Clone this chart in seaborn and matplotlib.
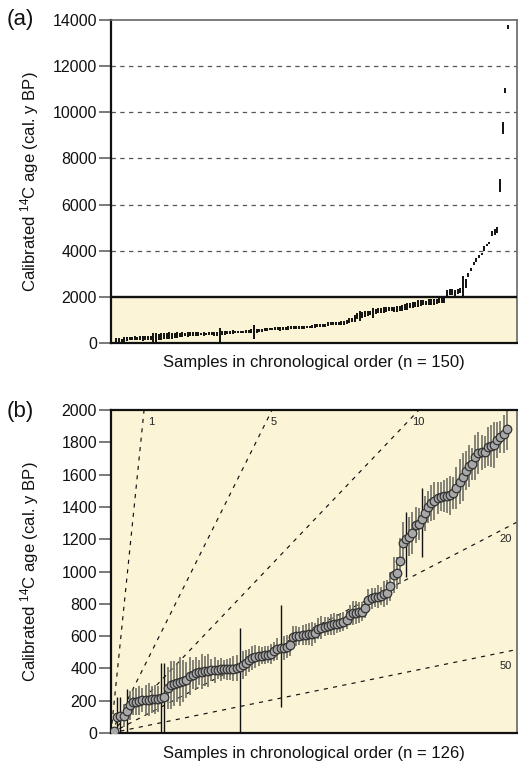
import numpy as np
import pandas as pd
import matplotlib
matplotlib.use("Agg")
import matplotlib.pyplot as plt
import seaborn as sns

# ---------------- data ----------------
# panel (b): 126 samples younger than 2000 cal. y BP (median age, half range)
ages_b = [15, 97, 103, 108, 135, 172, 190, 195, 200, 203, 205, 207, 208, 210, 212, 215, 225,
          280, 297, 305, 312, 318, 322, 328, 353,
          362, 370, 375, 380, 384, 387, 390, 392, 393, 394, 395, 396, 397, 399, 402,
          408, 420, 433, 450, 464, 472, 477, 480, 483, 486, 489,
          505, 520, 524, 528, 535, 545, 594,
          600, 603, 606, 609, 612, 615, 619, 645, 652, 658, 664, 670, 674, 678, 683,
          690, 700, 730, 744, 746, 748, 752, 773, 823, 835, 840, 845, 850, 860, 870,
          910, 978, 992, 1065, 1178, 1200, 1215, 1238, 1287, 1293, 1324, 1360,
          1400, 1425, 1436, 1454, 1462, 1466, 1470, 1473, 1487, 1516, 1556, 1587, 1624,
          1653, 1665, 1708, 1735, 1738, 1741, 1772, 1776, 1783, 1814, 1834, 1851, 1882]
errs_b = [15, 100, 110, 70, 120, 90, 80, 85, 90, 75, 95, 100, 85, 90, 80, 95, 100,
          130, 150, 140, 120, 150, 130, 110, 120,
          90, 100, 80, 110, 90, 100, 70, 80, 60, 70, 60, 65, 70, 75, 80,
          90, 85, 80, 70, 75, 70, 60, 50, 55, 50, 60,
          60, 70, 80, 75, 70, 65, 70,
          60, 55, 60, 65, 70, 75, 60, 65, 70, 60, 55, 65, 70, 60, 55,
          60, 55, 60, 75, 70, 65, 60, 60, 70, 65, 60, 70, 55, 80, 75,
          90, 110, 100, 140, 130, 100, 120, 130, 110, 100, 120, 110,
          100, 110, 120, 100, 90, 100, 110, 120, 100, 130, 140, 150, 120,
          130, 100, 140, 130, 110, 100, 120, 130, 140, 110, 100, 120, 130]
# samples with very wide calibrated ranges (1-based sample number, range)
wide_idx = [2, 3, 5, 16, 17, 41, 54, 94, 99]
wide_lo = [0, 0, 0, 0, 0, 0, 160, 966, 1090]
wide_hi = [225, 225, 270, 433, 433, 650, 792, 1368, 1516]
# panel (a): the 24 older samples (calibrated ranges)
old_lo = [2050, 2080, 2100, 2050, 2120, 2150, 2000, 2390, 2880, 3100, 3390, 3530,
          3700, 3820, 3970, 4190, 4280, 4620, 4700, 4780, 6530, 9040, 10830, 13610]
old_hi = [2300, 2330, 2350, 2300, 2360, 2380, 2913, 2780, 3040, 3260, 3530, 3700,
          3800, 3900, 4190, 4300, 4380, 4840, 4950, 5040, 7090, 9570, 11040, 13780]
# reference lines: years per sample
rate_labels = ["1", "5", "10", "20", "50"]
rate_slopes = [190, 39, 20.4, 10.1, 4.0]

yticks_a = list(range(0, 14001, 2000))
grid_a = [4000, 6000, 8000, 10000, 12000]
yticks_b = list(range(0, 2001, 200))

# ---------------- tables ----------------
n_b = len(ages_b)
df_b = pd.DataFrame({"sample": np.arange(1, n_b + 1), "age": ages_b, "err": errs_b})
df_b["lo"] = (df_b["age"] - df_b["err"]).clip(lower=0)
df_b["hi"] = df_b["age"] + df_b["err"]
df_b["wide"] = False
for k, lo, hi in zip(wide_idx, wide_lo, wide_hi):
    df_b.loc[df_b["sample"] == k, ["lo", "hi", "wide"]] = [lo, hi, True]

df_old = pd.DataFrame({"sample": np.arange(n_b + 1, n_b + len(old_lo) + 1),
                       "lo": old_lo, "hi": old_hi})
df_a = pd.concat([df_b[["sample", "lo", "hi"]], df_old], ignore_index=True)
n_a = len(df_a)

# ---------------- style ----------------
sns.set_theme(style="white")
plt.rcParams["font.family"] = ["Liberation Sans", "DejaVu Sans"]
plt.rcParams["mathtext.fontset"] = "custom"
plt.rcParams["mathtext.rm"] = "Liberation Sans"
plt.rcParams["mathtext.it"] = "Liberation Sans:italic"

YELLOW = "#FBF4D6"
ylabel = "Calibrated $^{14}$C age (cal. y BP)"

fig = plt.figure(figsize=(5.18, 7.67), dpi=100)
ax_a = fig.add_axes([0.2143, 0.5528, 0.7838, 0.4211])
ax_b = fig.add_axes([0.2143, 0.0443, 0.7838, 0.4211])


def style_axes(ax, top_dark):
    for s in ["left", "bottom"]:
        ax.spines[s].set_color("#111111")
        ax.spines[s].set_linewidth(1.6)
    ax.spines["top"].set_color("#111111" if top_dark else "#666666")
    ax.spines["top"].set_linewidth(1.6 if top_dark else 1.2)
    ax.spines["right"].set_color("#666666")
    ax.spines["right"].set_linewidth(1.2)
    ax.set_xticks([])
    ax.tick_params(axis="y", direction="out", length=8.5, width=1.1,
                   color="#555555", pad=1.5, labelsize=11.5, labelcolor="#111111",
                   left=True)
    ax.set_ylabel(ylabel, fontsize=12, color="#111111")
    ax.yaxis.set_label_coords(-0.172, 0.5)


# ---------------- panel (a) ----------------
ax_a.set_xlim(0, 153.4)
ax_a.set_ylim(0, 14000)
ax_a.axhspan(0, 2000, color=YELLOW, zorder=0, lw=0)
for g in grid_a:
    ax_a.axhline(g, color="#555555", lw=0.9, ls=(0, (3.5, 3.5)), zorder=1)
ax_a.axhline(2000, color="#111111", lw=1.7, zorder=4)
ax_a.vlines(df_a["sample"], df_a["lo"], df_a["hi"], color="#111111", lw=1.4, zorder=3)
ax_a.set_yticks(yticks_a)
style_axes(ax_a, top_dark=False)
ax_a.set_xlabel(f"Samples in chronological order (n = {n_a})", fontsize=12, color="#111111")
ax_a.xaxis.set_label_coords(0.5, -0.038)

# ---------------- panel (b) ----------------
xmax_b = 129.3
ax_b.set_xlim(0, xmax_b)
ax_b.set_ylim(0, 2000)
ax_b.set_facecolor(YELLOW)
for lab, slope in zip(rate_labels, rate_slopes):
    ax_b.axline((0, 0), slope=slope, color="#111111", lw=0.85, ls=(0, (3.5, 4.5)), zorder=1)
    if slope * xmax_b > 2000:
        yl = 1925
        ax_b.annotate(lab, xy=(yl / slope, yl), xytext=(3.5, 0), textcoords="offset points",
                      ha="left", va="center", fontsize=8, color="#222222")
    else:
        ax_b.annotate(lab, xy=(xmax_b, slope * xmax_b), xytext=(-4, -12),
                      textcoords="offset points", ha="right", va="center",
                      fontsize=8, color="#222222")
norm = df_b[~df_b["wide"]]
wide = df_b[df_b["wide"]]
ax_b.vlines(norm["sample"], norm["lo"], norm["hi"], color="#6f6f66", lw=1.2, zorder=2)
ax_b.vlines(wide["sample"], wide["lo"], wide["hi"], color="#111111", lw=1.0, zorder=2)
sns.scatterplot(data=df_b, x="sample", y="age", ax=ax_b, s=38, color="#a8a8a8",
                edgecolor="#333333", linewidth=0.9, zorder=3, legend=False)
ax_b.set_yticks(yticks_b)
style_axes(ax_b, top_dark=True)
ax_b.set_xlabel(f"Samples in chronological order (n = {n_b})", fontsize=12, color="#111111")
ax_b.xaxis.set_label_coords(0.5, -0.040)

fig.text(0.012, 0.974, "(a)", fontsize=16, va="center", ha="left", color="#111111")
fig.text(0.012, 0.463, "(b)", fontsize=16, va="center", ha="left", color="#111111")

fig.savefig("out.png", dpi=100)
